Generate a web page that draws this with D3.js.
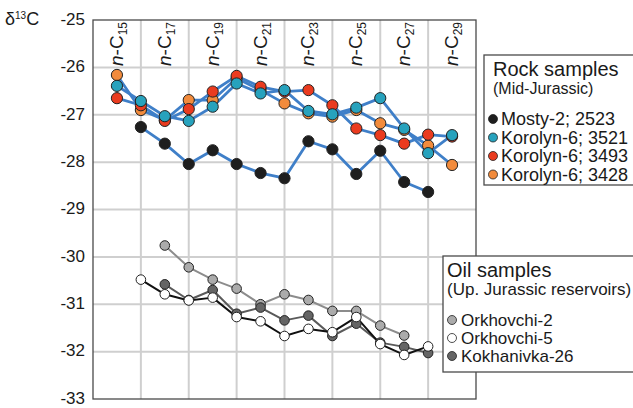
<!DOCTYPE html>
<html>
<head>
<meta charset="utf-8">
<script src="https://cdn.jsdelivr.net/npm/d3@7"></script>
<style>
  body { margin: 0; background: #fff; }
  svg text { font-family: "Liberation Sans", Arial, sans-serif; fill: #1a1a1a; }
</style>
</head>
<body>
<svg id="chart" width="633" height="408"></svg>
<script>
// carbon numbers of the n-alkanes
const carbons = [15, 16, 17, 18, 19, 20, 21, 22, 23, 24, 25, 26, 27, 28, 29];
const headerCarbons = [15, 17, 19, 21, 23, 25, 27, 29];
const yTicks = [-25, -26, -27, -28, -29, -30, -31, -32, -33];

// rock samples (Mid-Jurassic), null = no value
const mosty2523 = [null, -27.26, -27.61, -28.04, -27.75, -28.04, -28.23, -28.34, -27.56, -27.73, -28.25, -27.76, -28.42, -28.63, null];
const korolyn3428 = [-26.16, -26.90, -27.11, -26.69, -26.69, -26.23, -26.48, -26.76, -26.97, -27.04, -26.90, -27.18, -27.32, -27.65, -28.06];
const korolyn3493 = [-26.65, -26.80, -27.13, -26.88, -26.51, -26.18, -26.41, -26.51, -26.48, -26.80, -27.29, -27.43, -27.61, -27.42, -27.46];
const korolyn3521 = [-26.39, -26.71, -27.03, -27.13, -26.83, -26.34, -26.55, -26.48, -26.92, -26.99, -26.85, -26.65, -27.29, -27.81, -27.43];

// oil samples (Up. Jurassic reservoirs)
const orkhovchi2 = [null, null, -29.76, -30.22, -30.48, -30.67, -31.00, -30.79, -30.91, -31.14, -31.14, -31.45, -31.66, null, null];
const kokhanivka26 = [null, null, -30.58, -30.91, -30.70, -31.20, -31.07, -31.34, -31.24, -31.67, -31.41, -31.81, -31.90, -32.03, null];
const orkhovchi5 = [null, -30.48, -30.79, -30.92, -30.86, -31.27, -31.36, -31.67, -31.52, -31.59, -31.27, -31.84, -32.07, -31.89, null];

const rockSeries = [
  { name: "Mosty-2; 2523", values: mosty2523, fill: "#1e1e1e" },
  { name: "Korolyn-6; 3428", values: korolyn3428, fill: "#f28b3c" },
  { name: "Korolyn-6; 3493", values: korolyn3493, fill: "#ea3b1f" },
  { name: "Korolyn-6; 3521", values: korolyn3521, fill: "#27a2bd" }
];
const rockLegend = ["Mosty-2; 2523", "Korolyn-6; 3521", "Korolyn-6; 3493", "Korolyn-6; 3428"];

const oilSeries = [
  { name: "Orkhovchi-2", values: orkhovchi2, fill: "#ababab", line: "#8c8c8c" },
  { name: "Kokhanivka-26", values: kokhanivka26, fill: "#656565", line: "#5a5a5a" },
  { name: "Orkhovchi-5", values: orkhovchi5, fill: "#ffffff", line: "#111111" }
];
const oilLegend = ["Orkhovchi-2", "Orkhovchi-5", "Kokhanivka-26"];

const svg = d3.select("#chart");
const mLeft = 93, mRight = 476, mTop = 20, mBottom = 399;

const x = d3.scaleLinear().domain([14, 30]).range([mLeft, mRight]);
const y = d3.scaleLinear().domain([-33, -25]).range([mBottom, mTop]);

// grid
const grid = svg.append("g");
grid.selectAll("line.v")
  .data(d3.range(16, 30, 2))
  .enter().append("line")
  .attr("x1", d => x(d)).attr("x2", d => x(d))
  .attr("y1", mTop).attr("y2", mBottom)
  .attr("stroke", "#cfcfcf").attr("stroke-width", 2);
grid.selectAll("line.h")
  .data(d3.range(-32, -25, 1))
  .enter().append("line")
  .attr("x1", mLeft).attr("x2", mRight)
  .attr("y1", d => y(d)).attr("y2", d => y(d))
  .attr("stroke", "#cfcfcf").attr("stroke-width", 2);

// y axis labels
const yAxis = d3.axisLeft(y).tickValues(yTicks).tickSize(0).tickPadding(8)
  .tickFormat(d => String(d));
const ya = svg.append("g").attr("transform", `translate(${mLeft},0)`).call(yAxis);
ya.select(".domain").remove();
ya.selectAll("text").style("font-size", "17px").attr("dy", "0.25em")
  .style("font-family", "'Liberation Sans', Arial, sans-serif").attr("fill", "#1a1a1a");

// delta label
const dl = svg.append("text").attr("x", 5).attr("y", 25).style("font-size", "18px");
dl.append("tspan").text("δ");
dl.append("tspan").attr("dy", -6).style("font-size", "10px").text("13");
dl.append("tspan").attr("dy", 6).text("C");

// header labels n-Cxx
headerCarbons.forEach(c => {
  const t = svg.append("text")
    .attr("transform", `translate(${x(c) + 6},44) rotate(-90)`)
    .attr("text-anchor", "middle")
    .style("font-size", "19px");
  t.append("tspan").style("font-style", "italic").text("n");
  t.append("tspan").text("-C");
  t.append("tspan").attr("dy", 4).style("font-size", "12px").text(c);
});

// frame
svg.append("rect")
  .attr("x", mLeft).attr("y", mTop)
  .attr("width", mRight - mLeft).attr("height", mBottom - mTop)
  .attr("fill", "none").attr("stroke", "#4a4a4a").attr("stroke-width", 1.3);

const line = d3.line()
  .defined(d => d.v !== null)
  .x(d => x(d.c)).y(d => y(d.v));
const pts = s => carbons.map((c, i) => ({ c: c, v: s.values[i] }));

// rock lines
svg.append("g").selectAll("path")
  .data(rockSeries)
  .enter().append("path")
  .attr("d", s => line(pts(s)))
  .attr("fill", "none").attr("stroke", "#3f7fc8").attr("stroke-width", 2.8)
  .attr("stroke-linejoin", "round");

rockSeries.forEach(s => {
  svg.append("g").selectAll("circle")
    .data(pts(s).filter(d => d.v !== null))
    .enter().append("circle")
    .attr("cx", d => x(d.c)).attr("cy", d => y(d.v)).attr("r", 5.6)
    .attr("fill", s.fill).attr("stroke", "#222").attr("stroke-width", 1);
});

// oil lines and points
oilSeries.forEach(s => {
  svg.append("path")
    .attr("d", line(pts(s)))
    .attr("fill", "none").attr("stroke", s.line).attr("stroke-width", 2)
    .attr("stroke-linejoin", "round");
});
oilSeries.forEach(s => {
  svg.append("g").selectAll("circle")
    .data(pts(s).filter(d => d.v !== null))
    .enter().append("circle")
    .attr("cx", d => x(d.c)).attr("cy", d => y(d.v)).attr("r", 4.8)
    .attr("fill", s.fill).attr("stroke", "#222").attr("stroke-width", 1);
});

// rock legend
const rl = svg.append("g");
rl.append("rect").attr("x", 484).attr("y", 55).attr("width", 160).attr("height", 130)
  .attr("fill", "#fff").attr("stroke", "#4a4a4a").attr("stroke-width", 1.3);
rl.append("text").attr("x", 493).attr("y", 76).style("font-size", "20px").text("Rock samples");
rl.append("text").attr("x", 493).attr("y", 94).style("font-size", "16px").text("(Mid-Jurassic)");
rockLegend.forEach((name, i) => {
  const s = rockSeries.find(r => r.name === name);
  const cy = 119 + i * 18.5;
  rl.append("circle").attr("cx", 493).attr("cy", cy).attr("r", 4.5)
    .attr("fill", s.fill).attr("stroke", "#222").attr("stroke-width", 0.8);
  rl.append("text").attr("x", 501).attr("y", cy + 6).style("font-size", "18px").text(name);
});

// oil legend
const ol = svg.append("g");
ol.append("rect").attr("x", 443).attr("y", 256).attr("width", 200).attr("height", 116)
  .attr("fill", "#fff").attr("stroke", "#4a4a4a").attr("stroke-width", 1.3);
ol.append("text").attr("x", 447).attr("y", 277).style("font-size", "20px").text("Oil samples");
ol.append("text").attr("x", 447).attr("y", 295).style("font-size", "17px").text("(Up. Jurassic reservoirs)");
oilLegend.forEach((name, i) => {
  const s = oilSeries.find(r => r.name === name);
  const cy = 320 + i * 18;
  ol.append("circle").attr("cx", 452).attr("cy", cy).attr("r", 4.5)
    .attr("fill", s.fill).attr("stroke", "#222").attr("stroke-width", 0.8);
  ol.append("text").attr("x", 461).attr("y", cy + 6).style("font-size", "17px").text(name);
});
</script>
</body>
</html>
